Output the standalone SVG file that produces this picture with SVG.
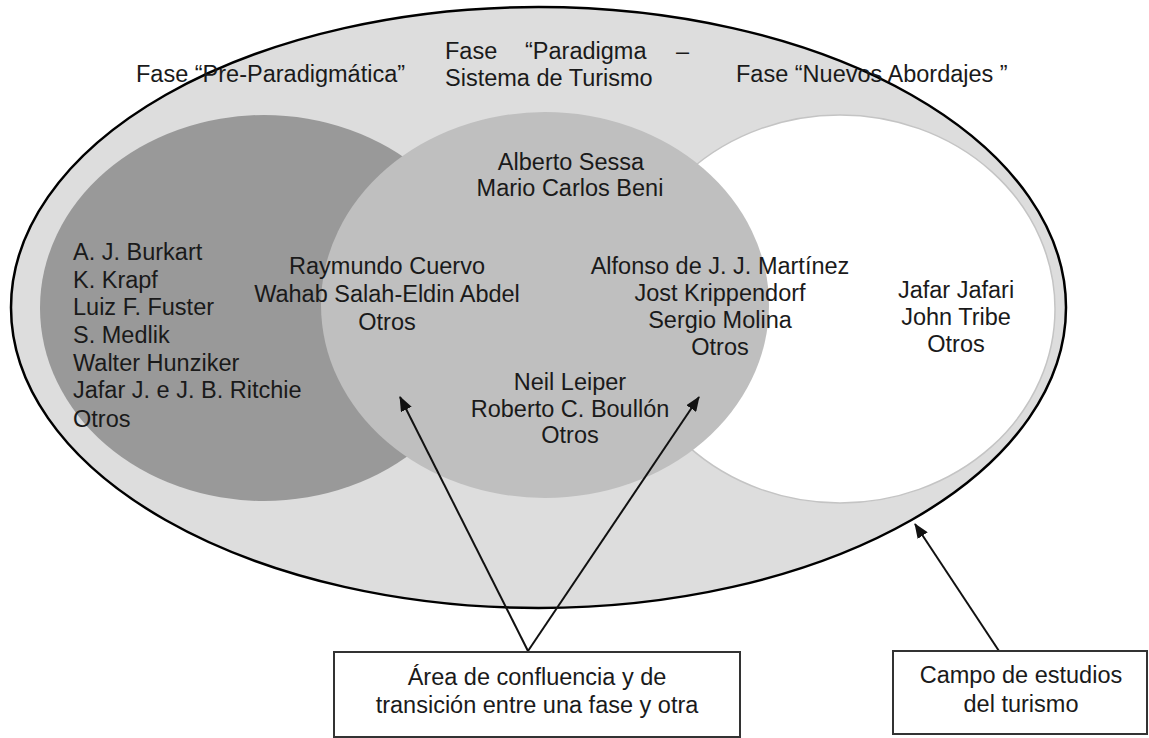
<svg xmlns="http://www.w3.org/2000/svg" width="1149" height="738" viewBox="0 0 1149 738">
<style>
text{font-family:"Liberation Sans",Arial,sans-serif;font-size:23.5px;fill:#1a1a1a}
.c{text-anchor:middle}
.box{fill:#fff;stroke:#333;stroke-width:2}
.arr{stroke:#111;stroke-width:2;fill:none;marker-end:url(#ah)}
</style>
<defs>
<marker id="ah" markerUnits="userSpaceOnUse" markerWidth="16" markerHeight="12" refX="14" refY="6" orient="auto">
<path d="M0,0 L15,6 L0,12 z" fill="#111"/>
</marker>
</defs>
<g id="campo-estudios">
<ellipse cx="538.5" cy="307.5" rx="527.5" ry="300.5" fill="#dddddd" stroke="#000" stroke-width="2.5"/>
</g>
<g id="fase-pre-paradigmatica">
<ellipse cx="264" cy="308" rx="224" ry="193" fill="#999999"/>
</g>
<g id="fase-nuevos-abordajes">
<ellipse cx="840" cy="309" rx="215" ry="194" fill="#ffffff" stroke="#c4c4c4" stroke-width="1.5"/>
</g>
<g id="fase-paradigma">
<ellipse cx="545" cy="305" rx="224" ry="193" fill="#bfbfbf"/>
</g>
<g id="labels-fases">
<text x="136" y="82">Fase “Pre-Paradigmática”</text>
<text x="445" y="59">Fase</text>
<text x="525" y="59">“Paradigma</text>
<text x="676" y="59">–</text>
<text x="445" y="86">Sistema de Turismo</text>
<text x="736" y="82">Fase “Nuevos Abordajes ”</text>
</g>
<g id="autores-pre">
<text x="73" y="260">A. J. Burkart</text>
<text x="73" y="288">K. Krapf</text>
<text x="73" y="315">Luiz F. Fuster</text>
<text x="73" y="343">S. Medlik</text>
<text x="73" y="371">Walter Hunziker</text>
<text x="73" y="398">Jafar J. e J. B. Ritchie</text>
<text x="73" y="427">Otros</text>
</g>
<g id="autores-paradigma">
<text class="c" x="571" y="170">Alberto Sessa</text>
<text class="c" x="570" y="196">Mario Carlos Beni</text>
<text class="c" x="387" y="274">Raymundo Cuervo</text>
<text class="c" x="387" y="302">Wahab Salah-Eldin Abdel</text>
<text class="c" x="387" y="330">Otros</text>
<text class="c" x="720" y="274">Alfonso de J. J. Martínez</text>
<text class="c" x="720" y="301">Jost Krippendorf</text>
<text class="c" x="720" y="328">Sergio Molina</text>
<text class="c" x="720" y="355">Otros</text>
<text class="c" x="570" y="390">Neil Leiper</text>
<text class="c" x="570" y="417">Roberto C. Boullón</text>
<text class="c" x="570" y="443">Otros</text>
</g>
<g id="autores-nuevos">
<text class="c" x="956" y="298">Jafar Jafari</text>
<text class="c" x="956" y="325">John Tribe</text>
<text class="c" x="956" y="352">Otros</text>
</g>
<g id="connectors">
<line class="arr" x1="528" y1="651" x2="400" y2="397"/>
<line class="arr" x1="528" y1="651" x2="699" y2="397"/>
<line class="arr" x1="999" y1="651" x2="915" y2="524"/>
</g>
<g id="box-area">
<rect class="box" x="334" y="652" width="406" height="85"/>
<text class="c" x="537" y="685">Área de confluencia y de</text>
<text class="c" x="537" y="713">transición entre una fase y otra</text>
</g>
<g id="box-campo">
<rect class="box" x="893" y="651" width="254" height="83"/>
<text class="c" x="1021" y="683">Campo de estudios</text>
<text class="c" x="1021" y="712">del turismo</text>
</g>
</svg>
